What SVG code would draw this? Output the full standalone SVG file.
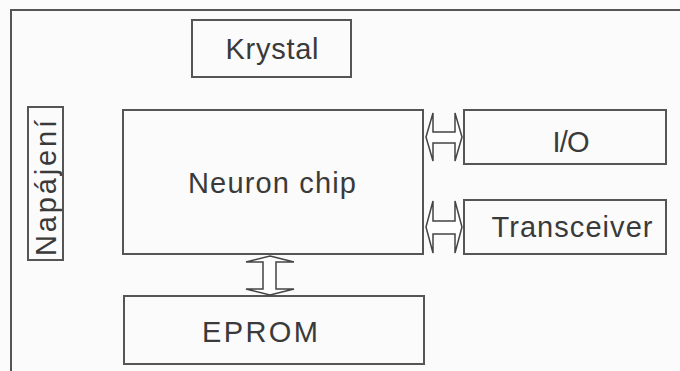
<svg xmlns="http://www.w3.org/2000/svg" width="680" height="371" viewBox="0 0 680 371">
<style>
.box{fill:none;stroke:#555;stroke-width:2}
.bus{fill:#fff;stroke:#444;stroke-width:1.5;stroke-linejoin:miter}
text{font-family:"Liberation Sans",Arial,sans-serif;font-size:29px;fill:#3a3a3a;text-anchor:middle}
</style>
<rect x="0" y="0" width="680" height="371" fill="#fbfbfb"/>
<g id="frame"><rect class="box" x="11" y="10" width="690" height="380"/></g>
<g id="krystal"><rect class="box" x="192" y="20" width="159" height="57"/><text x="272" y="59" textLength="93" lengthAdjust="spacing">Krystal</text></g>
<g id="napajeni"><rect class="box" x="28" y="107" width="35" height="153"/><text transform="translate(56,188) rotate(-90)" textLength="136" lengthAdjust="spacing">Napájení</text></g>
<g id="neuron"><rect class="box" x="123" y="110" width="300" height="144"/><text x="272" y="193" textLength="168" lengthAdjust="spacing">Neuron chip</text></g>
<g id="io"><rect class="box" x="464" y="110" width="202" height="54"/><text x="571" y="152" textLength="37" lengthAdjust="spacing">I/O</text></g>
<g id="transceiver"><rect class="box" x="464" y="200" width="202" height="54"/><text x="572" y="237" textLength="161" lengthAdjust="spacing">Transceiver</text></g>
<g id="eprom"><rect class="box" x="124" y="296" width="300" height="68"/><text x="260" y="342" textLength="116" lengthAdjust="spacing">EPROM</text></g>
<g id="connectors">
<polygon class="bus" points="426,137 433,113 433,132 455,132 455,113 462,137 455,161 455,143 433,143 433,161"/>
<polygon class="bus" points="426,227 433,201 433,221 455,221 455,201 462,227 455,253 455,234 433,234 433,253"/>
<polygon class="bus" points="270,256 294,262 276,262 276,289 294,289 270,295 246,289 263,289 263,262 246,262"/>
</g>
</svg>
